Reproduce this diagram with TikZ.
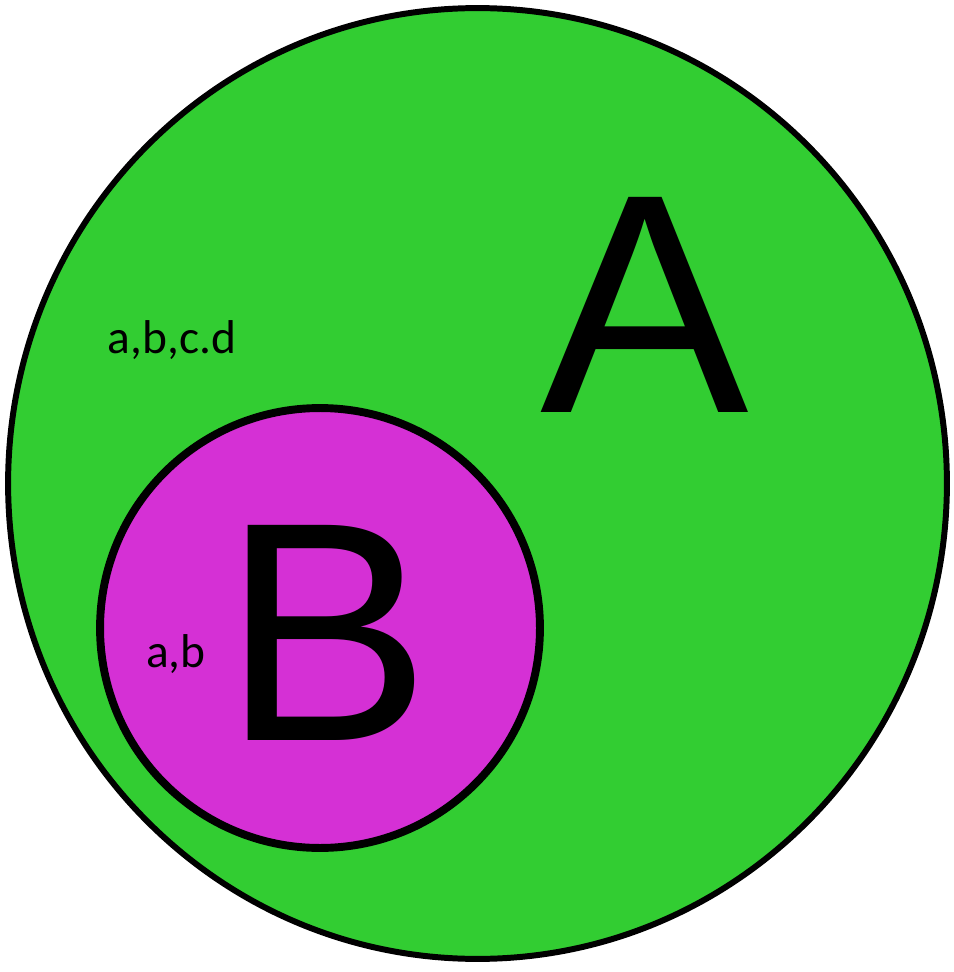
\documentclass[tikz,border=0pt]{standalone}
\usepackage{fontspec}
\setmainfont{Liberation Sans}
\newfontfamily\labelfont{Carlito}
\usetikzlibrary{shapes.geometric}
\definecolor{setgreen}{RGB}{50,205,50}
\definecolor{setpurple}{RGB}{213,48,213}

\begin{document}
\begin{tikzpicture}[x=0.02cm,y=-0.02cm,
                    set A/.style={ellipse,draw,fill=setgreen,line width=3.4pt,inner sep=0pt},
                    set B/.style={circle,draw,fill=setpurple,line width=4.5pt,inner sep=0pt},
                    big letter/.style={font=\fontsize{178}{178}\selectfont},
                    elements/.style={font=\labelfont\fontsize{27}{27}\selectfont,inner sep=0pt}]

  \useasboundingbox (0,0) rectangle (953,972);

  \node[set A, minimum width=18.78cm, minimum height=19.02cm] (A) at (477.5,483.5) {};
  \node[set B, minimum size=8.8cm] (B) at (320,628) {};

  \node[big letter] (letterA) at (645,305) {A};
  \node[big letter] (letterB) at (327,633) {B};

  \node[elements] (elemA) at (172,340) {a,b,c.d};
  \node[elements] (elemB) at (176,654) {a,b};
\end{tikzpicture}
\end{document}
